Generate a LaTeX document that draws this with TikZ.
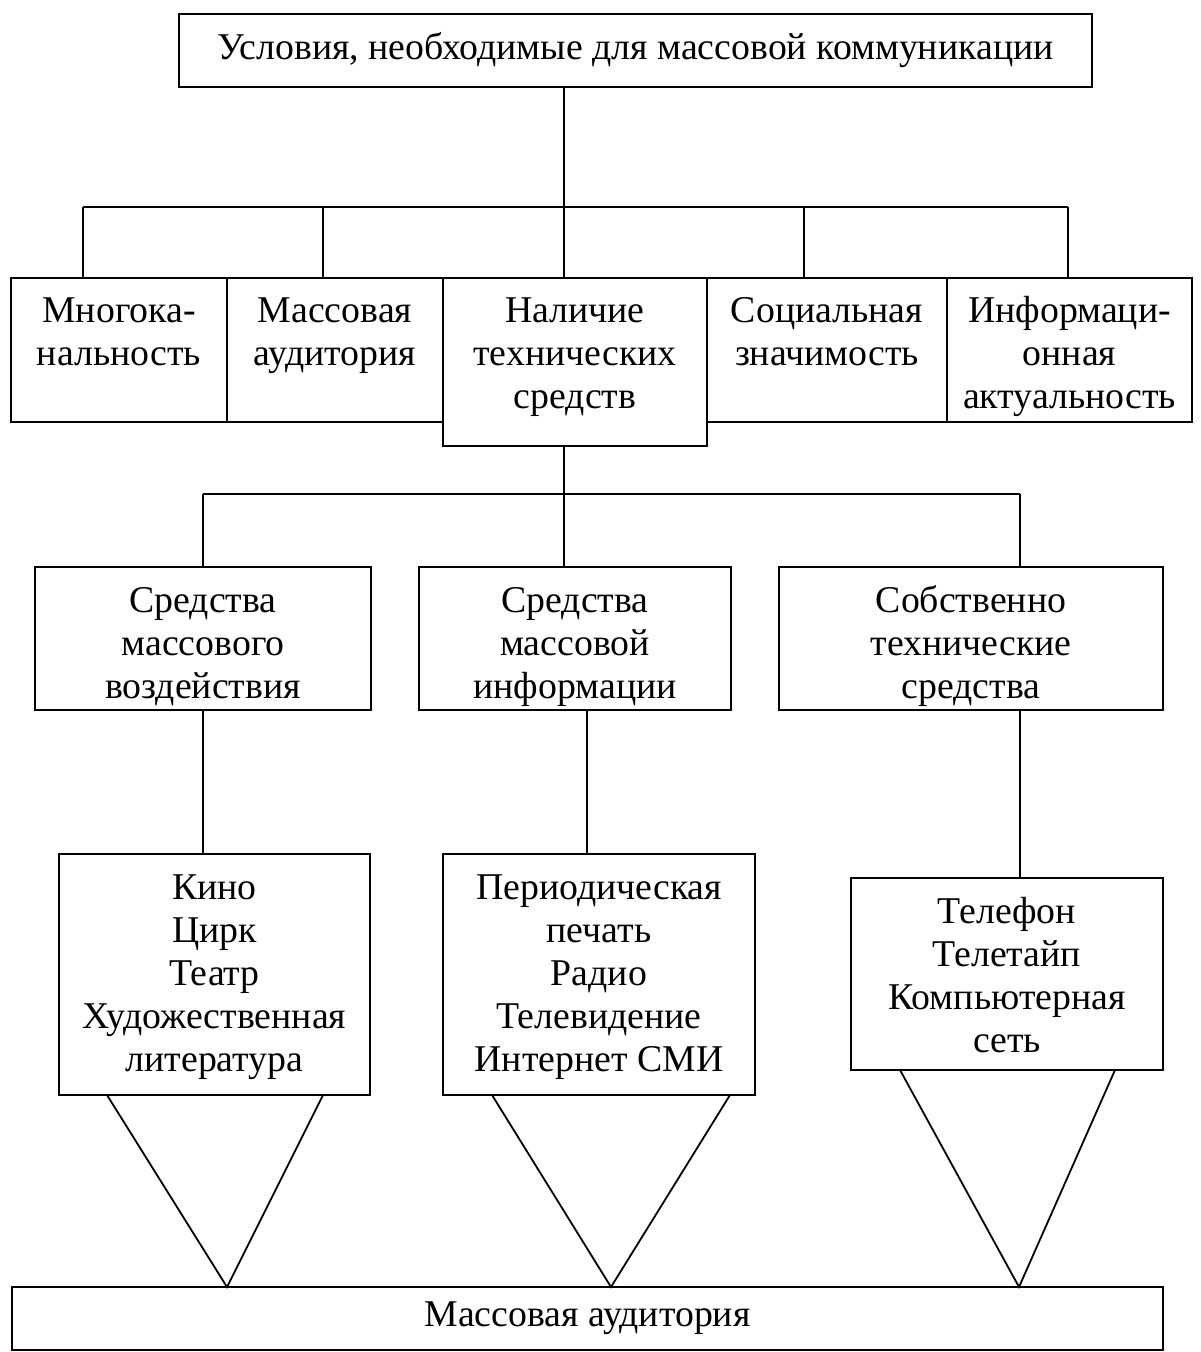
\documentclass[tikz,border=0pt]{standalone}
\usepackage{fontspec}
\setmainfont{Liberation Serif}
\usetikzlibrary{positioning}
% box with text set from the top edge
\newcommand{\boxtext}[3]{\parbox[c][#2][t]{#1}{\centering\rule{0pt}{22.5pt}#3}}
\tikzset{
  cell/.style  = {draw, line width=0.9pt, inner sep=0pt, outer sep=0pt,
                  anchor=north west},
  head/.style  = {draw, line width=0.9pt, inner sep=0pt, outer sep=0pt,
                  anchor=north west, align=center},
  ln/.style    = {line width=0.9pt}
}

\begin{document}
\begin{tikzpicture}[x=0.5pt, y=-0.5pt,
    every node/.style={font=\fontsize{18.9pt}{21.5pt}\selectfont}]
  \useasboundingbox (0,0) rectangle (1200,1352);
  \node[head, minimum width=456.5pt, minimum height=36.5pt] (cond) at (179,14)
    {Условия, необходимые для массовой коммуникации};
  % second row
  \node[cell] (multi) at (11,278) {\boxtext{108pt}{72pt}{Многока-\\нальность}};
  \node[cell, anchor=west, right=0pt of multi] (mass)
    {\boxtext{108pt}{72pt}{Массовая\\аудитория}};
  \node[cell] (tech) at (mass.north east)
    {\boxtext{132pt}{84pt}{Наличие\\технических\\средств}};
  \node[cell] (social) at (tech.north east)
    {\boxtext{120pt}{72pt}{Социальная\\значимость}};
  \node[cell] (actual) at (social.north east)
    {\boxtext{122.5pt}{72pt}{Информаци-\\онная\\актуальность}};
  % third row
  \node[cell] (mvz)  at (35,567)  {\boxtext{168pt}{71.5pt}{Средства\\массового\\воздействия}};
  \node[cell] (smi)  at (419,567) {\boxtext{156pt}{71.5pt}{Средства\\массовой\\информации}};
  \node[cell] (own)  at (779,567) {\boxtext{192pt}{71.5pt}{Собственно\\технические\\средства}};
  % fourth row
  \node[cell] (kino)  at (59,854)  {\boxtext{155.5pt}{120.5pt}{Кино\\Цирк\\Театр\\Художественная\\литература}};
  \node[cell] (press) at (443,854) {\boxtext{156pt}{120.5pt}{Периодическая\\печать\\Радио\\Телевидение\\Интернет СМИ}};
  \node[cell] (phone) at (851,878) {\boxtext{156pt}{96pt}{Телефон\\Телетайп\\Компьютерная\\сеть}};
  \node[head, minimum width=575.5pt, minimum height=31.5pt] (aud) at (12,1287)
    {Массовая аудитория};

  % upper bus
  \coordinate (hub1) at (564,207);
  \coordinate (l1) at (83,207);
  \coordinate (r1) at (1068,207);
  \draw[ln] (cond.south -| hub1) -- (hub1);
  \draw[ln] (l1) -- (r1);
  \foreach \x/\n in {83/multi, 323/mass, 564/tech, 804/social, 1068/actual}
    \draw[ln] (\x,207) -- (\x,207 |- \n.north);
  % lower bus
  \coordinate (hub2) at (564,494);
  \coordinate (l2) at (203,494);
  \coordinate (r2) at (1020,494);
  \draw[ln] (tech.south -| hub2) -- (hub2);
  \draw[ln] (l2) -- (r2);
  \foreach \x/\n in {203/mvz, 564/smi, 1020/own}
    \draw[ln] (\x,494) -- (\x,494 |- \n.north);
  \foreach \x/\a/\b in {203/mvz/kino, 587/smi/press, 1020/own/phone}
    \draw[ln] (\x,0 |- \a.south) -- (\x,0 |- \b.north);
  % funnels to the audience
  \foreach \l/\m/\r/\n in {107/227/323/kino, 492/611/730/press, 900/1019/1115/phone}
    \draw[ln, line join=miter] (\l,0 |- \n.south) -- (\m,0 |- aud.north) -- (\r,0 |- \n.south);
\end{tikzpicture}
\end{document}
